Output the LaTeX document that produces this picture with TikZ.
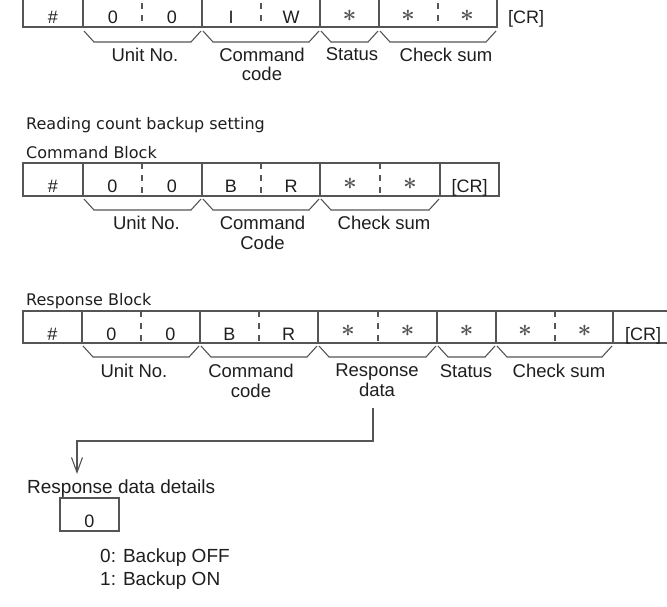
\documentclass[tikz,border=0pt]{standalone}
\usepackage{fontspec}
\setmainfont{Liberation Sans}
\newfontfamily\vfont{DejaVu Sans}
\usetikzlibrary{arrows.meta,calc}
\definecolor{ln}{HTML}{555555}
\definecolor{tx}{HTML}{1E1E1E}
\newcommand\mybrace[3]{\draw[brace] (#1+1,#3) -- (#1+11,#3+11) -- (#2-11,#3+11) -- (#2-1,#3);}
\begin{document}
\begin{tikzpicture}[x=1pt,y=-1pt,
  frame/.style={draw=ln,line width=1.4pt},
  divider/.style={draw=ln,line width=1.7pt,dash pattern=on 6pt off 6pt},
  brace/.style={draw=ln,line width=1.1pt,line join=miter},
  celltxt/.style={text=tx,font=\fontsize{18}{20}\selectfont,anchor=base,inner sep=0pt},
  star/.style={text=ln,font=\fontsize{12}{12}\selectfont\boldmath,inner sep=0pt},
  lab/.style={text=tx,font=\fontsize{18.5}{19.5}\selectfont,align=center,anchor=north,inner sep=0pt},
  ttl/.style={text=tx,font=\vfont\fontsize{16}{18}\selectfont,anchor=base west,inner sep=0pt},
  plain/.style={text=tx,font=\fontsize{19}{20}\selectfont,anchor=base west,inner sep=0pt},
  conn/.style={draw=ln,line width=1.1pt}]
\useasboundingbox (0,0) rectangle (667,606);
% ---------- top row (partially cropped)
\draw[frame] (23,-5) rectangle (497,27);
\foreach \x in {83,202,320,379} \draw[frame] (\x,-5) -- (\x,27);
\foreach \x in {142,261,438} \draw[divider] (\x,-9) -- (\x,27);
\node[celltxt] (t1) at (53,23) {\#};
\node[celltxt] (t2) at (113,23) {0};
\node[celltxt] (t3) at (172,23) {0};
\node[celltxt] (t4) at (231,23) {I};
\node[celltxt] (t5) at (291,23) {W};
\node[star] (t6) at (349.5,15.5) {\scalebox{2}{$\ast$}};
\node[star] (t7) at (408,15.5) {\scalebox{2}{$\ast$}};
\node[star] (t8) at (467,15.5) {\scalebox{2}{$\ast$}};
\node[celltxt] (t9) at (526,23) {[CR]};
\mybrace{83}{202}{31}
\mybrace{202}{320}{31}
\mybrace{320}{379}{31}
\mybrace{379}{497}{31}
\node[lab] (tl1) at (145,47.5) {Unit No.};
\node[lab] (tl2) at (262,47.5) {Command\\code};
\node[lab] (tl3) at (352,47.5) {Status};
\node[lab] (tl4) at (446,47.5) {Check sum};
% ---------- titles
\node[ttl] (h1) at (26,129.5) {Reading count backup setting};
\node[ttl] (h2) at (26,158) {Command Block};
% ---------- command row
\draw[frame] (23,163) rectangle (499,196);
\foreach \x in {83,202,320,440} \draw[frame] (\x,163) -- (\x,196);
\foreach \x in {142,261,380} \draw[divider] (\x,163) -- (\x,196);
\node[celltxt] (c1) at (53,192) {\#};
\node[celltxt] (c2) at (112.5,192) {0};
\node[celltxt] (c3) at (172,192) {0};
\node[celltxt] (c4) at (231,192) {B};
\node[celltxt] (c5) at (291,192) {R};
\node[star] (c6) at (350,183.5) {\scalebox{2}{$\ast$}};
\node[star] (c7) at (410,183.5) {\scalebox{2}{$\ast$}};
\node[celltxt] (c8) at (469.5,192) {[CR]};
\mybrace{83}{202}{199}
\mybrace{202}{320}{199}
\mybrace{320}{440}{199}
\node[lab] (cl1) at (146.5,216) {Unit No.};
\node[lab] (cl2) at (262.5,216) {Command\\Code};
\node[lab] (cl3) at (384,216) {Check sum};
% ---------- response row
\node[ttl] (h3) at (26,305) {Response Block};
\draw[frame] (672,311) -- (23,311) -- (23,343) -- (672,343);
\foreach \x in {82,200,318,437,496,613} \draw[frame] (\x,311) -- (\x,343);
\foreach \x in {141,259,378,555} \draw[divider] (\x,311) -- (\x,343);
\node[celltxt] (r1) at (52.5,340) {\#};
\node[celltxt] (r2) at (111.5,340) {0};
\node[celltxt] (r3) at (170.5,340) {0};
\node[celltxt] (r4) at (229.5,340) {B};
\node[celltxt] (r5) at (288.5,340) {R};
\node[star] (r6) at (348,331) {\scalebox{2}{$\ast$}};
\node[star] (r7) at (407.5,331) {\scalebox{2}{$\ast$}};
\node[star] (r8) at (466.5,331) {\scalebox{2}{$\ast$}};
\node[star] (r9) at (525,331) {\scalebox{2}{$\ast$}};
\node[star] (r10) at (584.5,331) {\scalebox{2}{$\ast$}};
\node[celltxt] (r11) at (643,340) {[CR]};
\mybrace{82}{200}{346}
\mybrace{200}{318}{346}
\mybrace{318}{437}{346}
\mybrace{437}{496}{346}
\mybrace{496}{613}{346}
\node[lab] (rl1) at (134,364) {Unit No.};
\node[lab] (rl2) at (251,364) {Command\\code};
\node[lab] (rl3) at (377,364) {Response\\data};
\node[lab] (rl4) at (466,364) {Status};
\node[lab] (rl5) at (559,364) {Check sum};
% ---------- connector
\coordinate (a1) at (373,408);
\coordinate (k) at (0,441);
\coordinate (a2) at (77,474);
\draw[conn,-{Straight Barb[length=15pt,width=11pt,line width=1.1pt]}] (a1) -- (a1 |- k) -| (a2);
% ---------- details
\node[plain] (d1) at (27,493) {Response data details};
\draw[draw=ln,line width=1.2pt] (60,498) rectangle (119,531);
\node[celltxt] (d2) at (89.5,527) {0};
\node[plain] (d3) at (100,562) {0: Backup OFF};
\node[plain] (d4) at (100,585) {1: Backup ON};
\end{tikzpicture}
\end{document}
